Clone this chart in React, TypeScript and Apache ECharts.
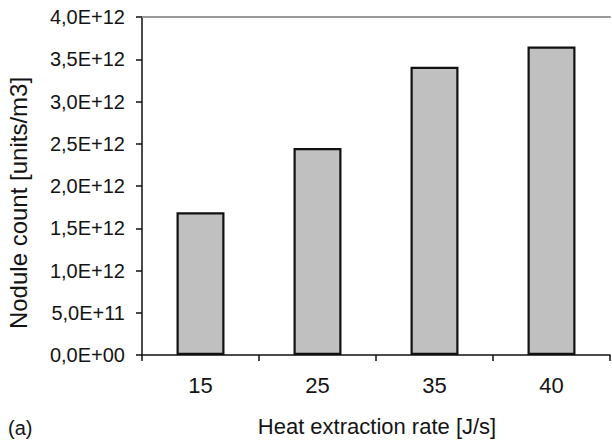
import React, { useEffect, useRef } from "react";
import * as echarts from "echarts";

// Heat extraction rate [J/s] categories and nodule counts [units/m3]
const heatRates = ["15", "25", "35", "40"];
const noduleCounts = [1.69e12, 2.45e12, 3.41e12, 3.65e12];

const yMin = 0;
const yMax = 4e12;
const yStep = 5e11;

const FONT = "'Liberation Sans', Arial, Helvetica, sans-serif";
const TEXT = "#141414";

// 4.0e+12 -> "4,0E+12", 0 -> "0,0E+00"
function sciLabel(v: number): string {
  const [mant, exp] = v.toExponential(1).split("e");
  const sign = exp[0] === "-" ? "-" : "+";
  const digits = exp.replace(/[+-]/, "").padStart(2, "0");
  return mant.replace(".", ",") + "E" + sign + digits;
}

export default function App() {
  const ref = useRef<HTMLDivElement>(null);

  useEffect(() => {
    if (!ref.current) return;
    const chart = echarts.init(ref.current, null, { renderer: "svg" });
    chart.setOption({
      animation: false,
      backgroundColor: "#ffffff",
      grid: { left: 142, top: 17, right: 2, bottom: 89 },
      xAxis: [
        {
          type: "category",
          data: heatRates,
          boundaryGap: true,
          axisLine: { show: true, lineStyle: { color: "#111", width: 1.5 } },
          axisTick: {
            show: true,
            inside: false,
            length: 6,
            alignWithLabel: false,
            lineStyle: { color: "#111", width: 1.5 },
          },
          axisLabel: {
            margin: 19,
            color: TEXT,
            fontFamily: FONT,
            fontSize: 22,
          },
          splitLine: { show: false },
        },
        {
          type: "category",
          data: heatRates,
          position: "top",
          axisLine: { show: true, lineStyle: { color: "#9a9a9a", width: 2 } },
          axisTick: { show: false },
          axisLabel: { show: false },
          splitLine: { show: false },
        },
      ],
      yAxis: {
        type: "value",
        min: yMin,
        max: yMax,
        interval: yStep,
        axisLine: { show: true, lineStyle: { color: "#111", width: 1.5 } },
        axisTick: {
          show: true,
          inside: false,
          length: 6,
          lineStyle: { color: "#111", width: 1.5 },
        },
        axisLabel: {
          margin: 17,
          color: TEXT,
          fontFamily: FONT,
          fontSize: 20,
          formatter: (v: number) => sciLabel(v),
        },
        splitLine: { show: false },
      },
      series: [
        {
          type: "bar",
          data: noduleCounts,
          xAxisIndex: 0,
          barWidth: "41%",
          itemStyle: {
            color: "#c0c0c0",
            borderColor: "#111",
            borderWidth: 2.2,
          },
        },
      ],
      graphic: [
        {
          type: "text",
          x: 18,
          y: 203,
          rotation: Math.PI / 2,
          style: {
            text: "Nodule count [units/m3]",
            fill: TEXT,
            font: `24px ${FONT}`,
            textAlign: "center",
            textVerticalAlign: "middle",
          },
        },
        {
          type: "text",
          x: 377,
          y: 426,
          style: {
            text: "Heat extraction rate [J/s]",
            fill: TEXT,
            font: `22px ${FONT}`,
            textAlign: "center",
            textVerticalAlign: "middle",
          },
        },
        {
          type: "text",
          x: 8,
          y: 428,
          style: {
            text: "(a)",
            fill: TEXT,
            font: `20px ${FONT}`,
            textAlign: "left",
            textVerticalAlign: "middle",
          },
        },
      ],
    });
    return () => chart.dispose();
  }, []);

  return (
    <div
      ref={ref}
      style={{ position: "absolute", left: 0, top: 0, width: 612, height: 444 }}
    />
  );
}
